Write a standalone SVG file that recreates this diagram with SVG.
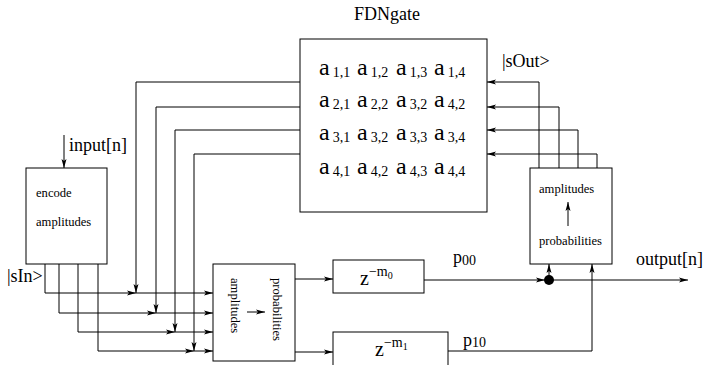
<svg xmlns="http://www.w3.org/2000/svg" width="703" height="365" viewBox="0 0 703 365">
<style>
text{font-family:"Liberation Serif","Times New Roman",serif;fill:#000}
.box{fill:#fff;stroke:#000;stroke-width:1}
.ln{fill:none;stroke:#000;stroke-width:1}
.arr{marker-end:url(#ah)}
.m{font-size:24px}
.s{font-size:14px}
.lbl{font-size:18px}
.sm{font-size:12.6px}
</style>
<defs>
<marker id="ah" viewBox="0 0 9 6" refX="9" refY="3" markerWidth="9" markerHeight="6" markerUnits="userSpaceOnUse" orient="auto">
<path d="M0,0.5 L9,3 L0,5.5 L2,3 z" fill="#000"/>
</marker>
</defs>
<rect width="703" height="365" fill="#fff"/>

<g id="connectors">
<!-- input -->
<path class="ln arr" d="M64,135 V168"/>
<!-- FDN left outputs going down -->
<path class="ln arr" d="M300,82 H136 V293"/>
<path class="ln arr" d="M300,107 H156 V313"/>
<path class="ln arr" d="M300,130 H175 V332"/>
<path class="ln arr" d="M300,154 H194 V351"/>
<!-- sIn lines -->
<path class="ln arr" d="M45,264 V293 H136"/>
<path class="ln arr" d="M136,293 H213"/>
<path class="ln arr" d="M59,264 V313 H156"/>
<path class="ln arr" d="M156,313 H213"/>
<path class="ln arr" d="M78,264 V332 H175"/>
<path class="ln arr" d="M175,332 H213"/>
<path class="ln arr" d="M98,264 V351 H194"/>
<path class="ln arr" d="M194,351 H213"/>
<!-- to delays -->
<path class="ln arr" d="M295,279 H333"/>
<path class="ln arr" d="M295,352 H333"/>
<!-- output -->
<path class="ln arr" d="M424,280 H545"/>
<path class="ln arr" d="M549,280 H688"/>
<circle cx="549" cy="280" r="5" fill="#000"/>
<path class="ln arr" d="M549,276 V264"/>
<path class="ln arr" d="M448,351 H592 V264"/>
<!-- feedback to FDN -->
<path class="ln arr" d="M539,168 V82 H487"/>
<path class="ln arr" d="M559,168 V107 H487"/>
<path class="ln arr" d="M578,168 V130 H487"/>
<path class="ln arr" d="M597,168 V154 H487"/>
</g>

<g id="fdngate">
<text class="lbl" x="387" y="20" text-anchor="middle">FDNgate</text>
<rect class="box" x="300" y="39" width="187" height="173"/>
<text class="m" y="75"><tspan x="319">a</tspan><tspan class="s" dx="3" dy="2">1,1</tspan><tspan x="357" dy="-2">a</tspan><tspan class="s" dx="3" dy="2">1,2</tspan><tspan x="396" dy="-2">a</tspan><tspan class="s" dx="3" dy="2">1,3</tspan><tspan x="434" dy="-2">a</tspan><tspan class="s" dx="3" dy="2">1,4</tspan></text>
<text class="m" y="107"><tspan x="319">a</tspan><tspan class="s" dx="3" dy="2">2,1</tspan><tspan x="357" dy="-2">a</tspan><tspan class="s" dx="3" dy="2">2,2</tspan><tspan x="396" dy="-2">a</tspan><tspan class="s" dx="3" dy="2">3,2</tspan><tspan x="434" dy="-2">a</tspan><tspan class="s" dx="3" dy="2">4,2</tspan></text>
<text class="m" y="140"><tspan x="319">a</tspan><tspan class="s" dx="3" dy="2">3,1</tspan><tspan x="357" dy="-2">a</tspan><tspan class="s" dx="3" dy="2">3,2</tspan><tspan x="396" dy="-2">a</tspan><tspan class="s" dx="3" dy="2">3,3</tspan><tspan x="434" dy="-2">a</tspan><tspan class="s" dx="3" dy="2">3,4</tspan></text>
<text class="m" y="174"><tspan x="319">a</tspan><tspan class="s" dx="3" dy="2">4,1</tspan><tspan x="357" dy="-2">a</tspan><tspan class="s" dx="3" dy="2">4,2</tspan><tspan x="396" dy="-2">a</tspan><tspan class="s" dx="3" dy="2">4,3</tspan><tspan x="434" dy="-2">a</tspan><tspan class="s" dx="3" dy="2">4,4</tspan></text>
</g>

<g id="encode">
<rect class="box" x="26" y="168" width="81" height="96"/>
<text class="sm" x="36" y="197">encode</text>
<text class="sm" x="36" y="226">amplitudes</text>
</g>

<g id="amp2prob">
<rect class="box" x="213" y="264" width="82" height="97"/>
<text class="sm" transform="translate(231,278) rotate(90)">amplitudes</text>
<text class="sm" transform="translate(273,278) rotate(90)">probabilities</text>
<path class="ln arr" d="M247,312 H265"/>
</g>

<g id="delay0">
<rect class="box" x="333" y="260" width="91" height="33"/>
<text x="360" y="285" font-size="20">z<tspan font-size="14" dy="-9">−m</tspan><tspan font-size="10" dy="3">0</tspan></text>
</g>

<g id="delay1">
<rect class="box" x="333" y="332" width="115" height="40"/>
<text x="375" y="356" font-size="20">z<tspan font-size="14" dy="-9">−m</tspan><tspan font-size="10" dy="3">1</tspan></text>
</g>

<g id="prob2amp">
<rect class="box" x="530" y="168" width="82" height="96"/>
<text class="sm" x="539" y="193">amplitudes</text>
<path class="ln arr" d="M568,226 V202"/>
<text class="sm" x="539" y="245">probabilities</text>
</g>

<g id="labels">
<text class="lbl" x="69" y="151">input[n]</text>
<text class="lbl" x="502" y="67">|sOut&gt;</text>
<text class="lbl" x="7" y="282">|sIn&gt;</text>
<text class="lbl" x="453" y="263">p<tspan font-size="14" dy="2">00</tspan></text>
<text class="lbl" x="463" y="346">p<tspan font-size="14" dy="1">10</tspan></text>
<text class="lbl" x="636" y="265">output[n]</text>
</g>
</svg>
